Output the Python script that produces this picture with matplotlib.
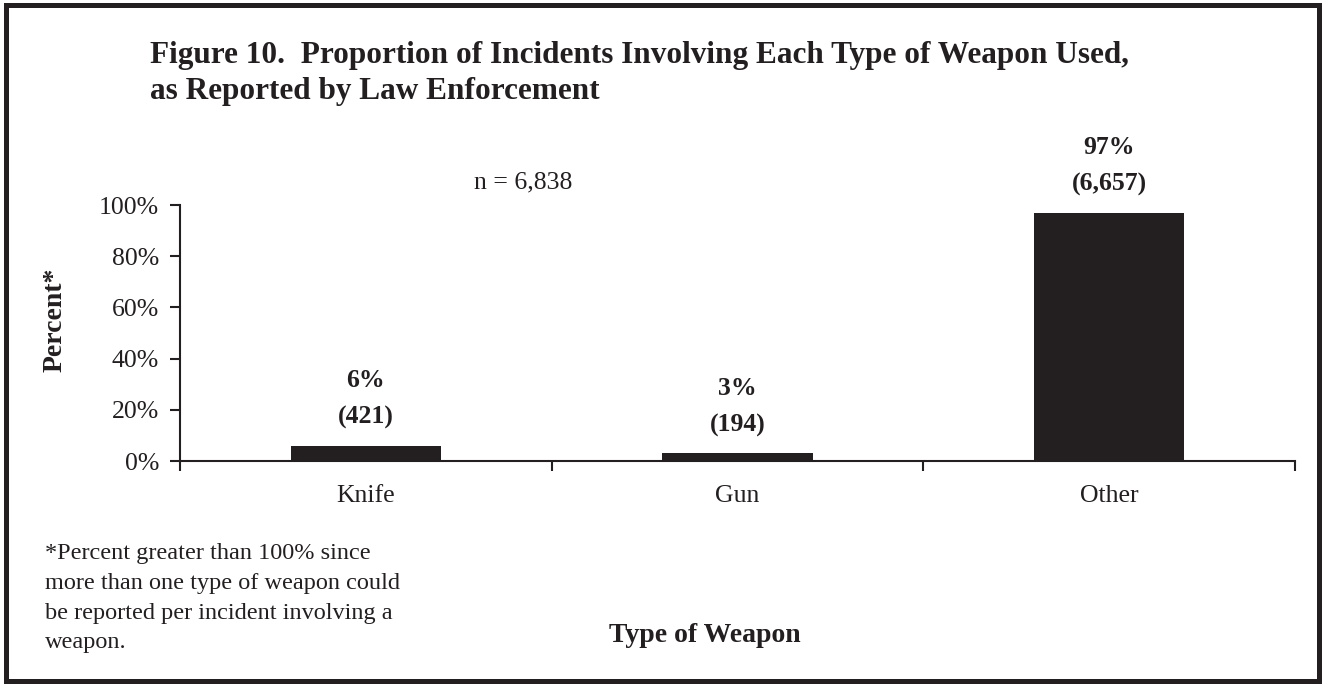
import matplotlib
matplotlib.use("Agg")
import matplotlib.pyplot as plt
from matplotlib.patches import Rectangle

categories = ["Knife", "Gun", "Other"]
percents = [6, 3, 97]
counts = ["(421)", "(194)", "(6,657)"]
yticks = [0, 20, 40, 60, 80, 100]
ytick_labels = ["0%", "20%", "40%", "60%", "80%", "100%"]

INK = "#231f20"
plt.rcParams['font.family'] = ['Liberation Serif', 'DejaVu Serif']

fig = plt.figure(figsize=(13.23, 6.84), dpi=100)
W, H = 1323, 684

def fx(px):
    return px / W

def fy(py):
    return 1 - py / H

# outer border
fig.patches.append(Rectangle((fx(5.5), fy(681)), fx(1319) - fx(5.5), fy(4.5) - fy(681),
                             transform=fig.transFigure, fill=False, edgecolor=INK, linewidth=3.6))

ax = fig.add_axes([fx(180), fy(461), fx(1295) - fx(180), fy(205) - fy(461)])
x = list(range(len(categories)))
ax.bar(x, percents, width=0.405, color=INK)
ax.set_xlim(-0.5, len(categories) - 0.5)
ax.set_ylim(0, 100)

ax.set_yticks(yticks)
ax.set_yticklabels(ytick_labels, fontsize=18.5, color=INK)
ax.tick_params(axis='y', direction='out', length=7, width=1.5, color=INK, pad=8)

ax.set_xticks(x)
ax.set_xticklabels(categories, fontsize=18.5, color=INK)
ax.tick_params(axis='x', length=0, pad=17)
ax.set_xticks([i - 0.5 for i in range(len(categories) + 1)], minor=True)
ax.tick_params(axis='x', which='minor', direction='out', length=7, width=1.5, color=INK)

for s in ['top', 'right']:
    ax.spines[s].set_visible(False)
for s in ['left', 'bottom']:
    ax.spines[s].set_linewidth(1.5)
    ax.spines[s].set_color(INK)

for xi, p, c in zip(x, percents, counts):
    ax.annotate(c, (xi, p), xytext=(0, 20), textcoords='offset points', ha='center', va='center',
                fontsize=18.5, fontweight='bold', color=INK)
    ax.annotate(f"{p}%", (xi, p), xytext=(0, 47), textcoords='offset points', ha='center', va='center',
                fontsize=18.5, fontweight='bold', color=INK, annotation_clip=False)

fig.text(fx(150), fy(55), "Figure 10.  Proportion of Incidents Involving Each Type of Weapon Used,",
         fontsize=22.5, fontweight='bold', color=INK, va='center', ha='left')
fig.text(fx(150), fy(92), "as Reported by Law Enforcement",
         fontsize=22.5, fontweight='bold', color=INK, va='center', ha='left')
fig.text(fx(523), fy(182), "n = 6,838", fontsize=18.5, color=INK, ha='center', va='center')
fig.text(fx(55), fy(320), "Percent*", fontsize=20, fontweight='bold', color=INK,
         rotation=90, ha='center', va='center')
fig.text(fx(705), fy(636), "Type of Weapon", fontsize=20, fontweight='bold', color=INK,
         ha='center', va='center')
fig.text(fx(45), fy(543),
         "*Percent greater than 100% since\nmore than one type of weapon could\nbe reported per incident involving a\nweapon.",
         fontsize=17.5, color=INK, ha='left', va='top', linespacing=1.55)

fig.savefig("out.png", dpi=100, facecolor='white')
